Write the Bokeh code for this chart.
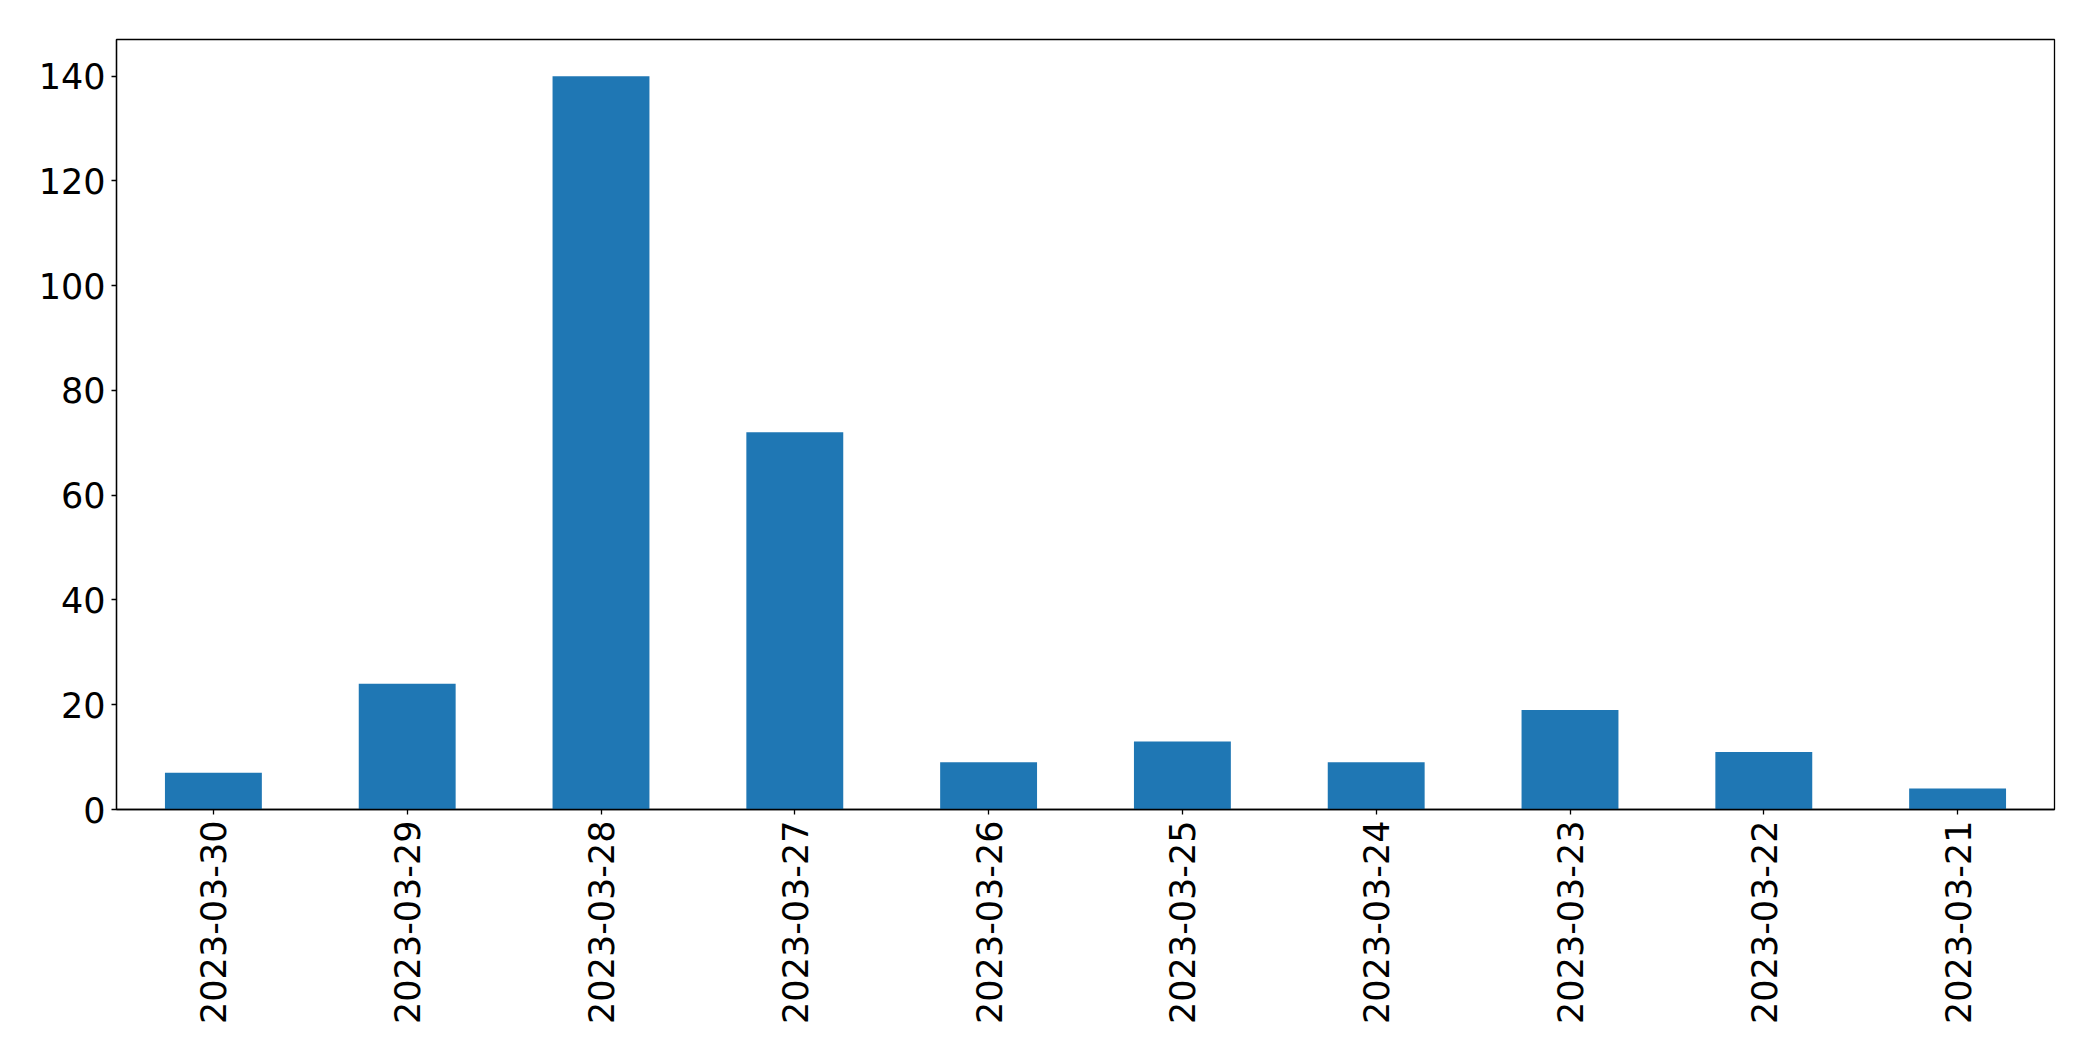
from bokeh.plotting import figure
from bokeh.models import Range1d, FixedTicker
from bokeh.embed import file_html
from bokeh.resources import INLINE
import math

dates = ["2023-03-30", "2023-03-29", "2023-03-28", "2023-03-27", "2023-03-26",
         "2023-03-25", "2023-03-24", "2023-03-23", "2023-03-22", "2023-03-21"]
counts = [7, 24, 140, 72, 9, 13, 9, 19, 11, 4]
y_ticks = [0, 20, 40, 60, 80, 100, 120, 140]

FONT = "DejaVu Sans"

p = figure(x_range=dates, y_range=Range1d(0, 147), width=2085, height=1053,
           output_backend="svg", toolbar_location=None,
           min_border_left=116, min_border_top=39, min_border_right=31, min_border_bottom=244)

p.vbar(x=dates, top=counts, width=0.5, fill_color="#1f77b4", line_color=None)

p.xgrid.grid_line_color = None
p.ygrid.grid_line_color = None
p.outline_line_color = "black"
p.outline_line_width = 1.3

for ax in (p.xaxis, p.yaxis):
    ax.axis_line_color = "black"
    ax.axis_line_width = 1.3
    ax.major_tick_line_color = "black"
    ax.major_tick_line_width = 1.3
    ax.major_tick_out = 5
    ax.major_tick_in = 0
    ax.minor_tick_line_color = None
    ax.major_label_text_font = FONT
    ax.major_label_text_color = "black"

p.xaxis.major_label_text_font_size = "35px"
p.yaxis.major_label_text_font_size = "35px"
p.yaxis.ticker = FixedTicker(ticks=y_ticks)
p.yaxis.major_label_standoff = 6
p.xaxis.major_label_orientation = math.pi / 2
p.xaxis.major_label_standoff = 6

open("out.html", "w").write(file_html(p, INLINE))
